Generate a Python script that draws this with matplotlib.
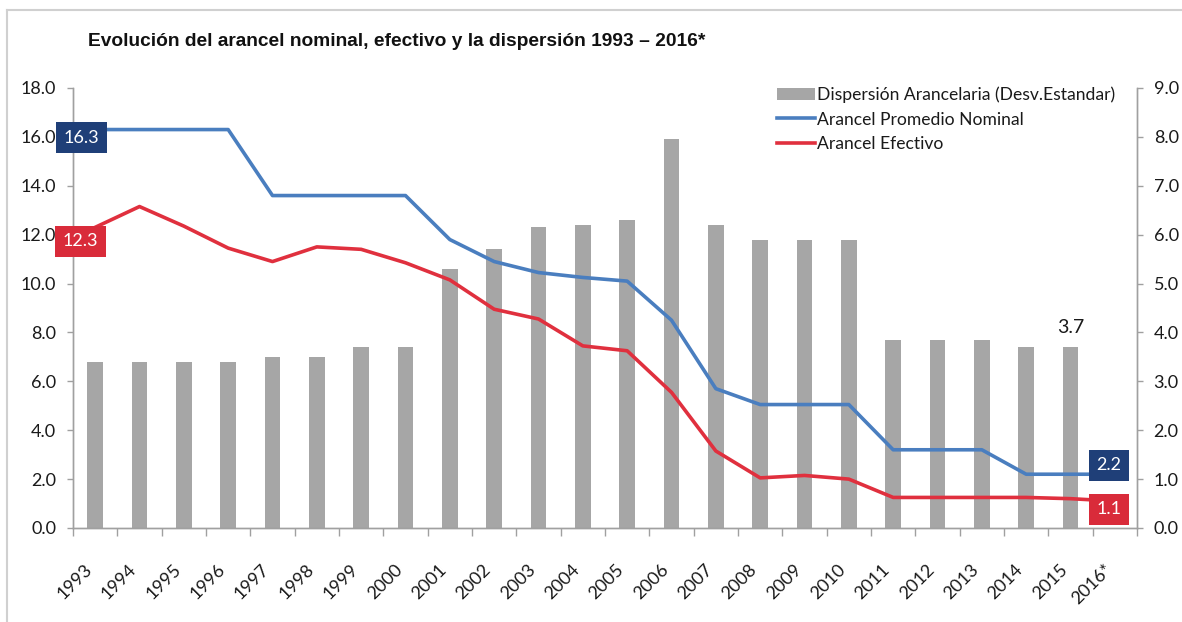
import matplotlib
matplotlib.use("Agg")
import matplotlib.pyplot as plt
from matplotlib.lines import Line2D
from matplotlib.patches import Patch
import numpy as np

years = ["1993", "1994", "1995", "1996", "1997", "1998", "1999", "2000", "2001", "2002",
         "2003", "2004", "2005", "2006", "2007", "2008", "2009", "2010", "2011", "2012",
         "2013", "2014", "2015", "2016*"]
dispersion = [3.4, 3.4, 3.4, 3.4, 3.5, 3.5, 3.7, 3.7, 5.3, 5.7,
              6.15, 6.2, 6.3, 7.95, 6.2, 5.9, 5.9, 5.9, 3.85, 3.85,
              3.85, 3.7, 3.7, np.nan]
nominal = [16.3, 16.3, 16.3, 16.3, 13.6, 13.6, 13.6, 13.6, 11.8, 10.9,
           10.45, 10.25, 10.1, 8.5, 5.7, 5.05, 5.05, 5.05, 3.2, 3.2,
           3.2, 2.2, 2.2, 2.2]
efectivo = [12.3, 13.15, 12.35, 11.45, 10.9, 11.5, 11.4, 10.85, 10.15, 8.95,
            8.55, 7.45, 7.25, 5.55, 3.15, 2.05, 2.15, 2.0, 1.25, 1.25,
            1.25, 1.25, 1.2, 1.1]

BAR_C = "#a6a6a6"
BLUE = "#4a7ebf"
RED = "#e0303e"
BLUE_BOX = "#1f3f78"
RED_BOX = "#d92b3a"
AX_C = "#a0a0a0"
TXT = "#1a1a1a"

plt.rcParams['font.family'] = ['Lato', 'DejaVu Sans']

fig = plt.figure(figsize=(11.82, 6.22), dpi=100)
ax = fig.add_axes([73/1182, 1-528/622, (1137-73)/1182, (528-88)/622])
ax2 = ax.twinx()

x = np.arange(len(years))
ax.bar(x, dispersion, width=0.36, color=BAR_C, zorder=2)
ax.set_ylim(0, 9)
ax.set_xlim(-0.5, len(years)-0.5)

ax2.plot(x, nominal, color=BLUE, lw=2.6, zorder=3, solid_joinstyle='round')
ax2.plot(x, efectivo, color=RED, lw=2.6, zorder=3, solid_joinstyle='round')
ax2.set_ylim(0, 18)

# swap sides: bars axis ticks on right, lines axis ticks on left
ax.yaxis.tick_right()
ax2.yaxis.tick_left()
ax.set_yticks(np.arange(0, 9.1, 1))
ax.set_yticklabels([f"{v:.1f}" for v in np.arange(0, 9.1, 1)])
ax2.set_yticks(np.arange(0, 18.1, 2))
ax2.set_yticklabels([f"{v:.1f}" for v in np.arange(0, 18.1, 2)])

for a in (ax, ax2):
    for s in a.spines.values():
        s.set_color(AX_C)
        s.set_linewidth(1.0)
    a.spines['top'].set_visible(False)
    a.tick_params(axis='y', colors=AX_C, labelcolor=TXT, labelsize=13, length=4, width=1, pad=8)

ax.set_xticks(x)
ax.set_xticklabels(years, rotation=45, ha='right', rotation_mode='default', fontsize=13, color=TXT)
ax.tick_params(axis='x', which='major', length=0, pad=24)
ax.set_xticks(np.arange(-0.5, len(years), 1), minor=True)
ax.tick_params(axis='x', which='minor', length=6, width=1, color=AX_C)

# data labels
def box_label(val, xi, yi, dx, dy, fc):
    ax2.annotate(f"{val:.1f}", xy=(xi, yi), xytext=(dx, dy), textcoords='offset pixels',
                 ha='center', va='center', color='white', fontsize=13, zorder=6,
                 bbox=dict(boxstyle='square,pad=0.42', fc=fc, ec='none'))

box_label(nominal[0], x[0], nominal[0], -14, -8, BLUE_BOX)
box_label(efectivo[0], x[0], efectivo[0], -15, -14, RED_BOX)
box_label(nominal[-1], x[-1], nominal[-1], -6, 9, BLUE_BOX)
box_label(efectivo[-1], x[-1], efectivo[-1], -6, -8, RED_BOX)

ax.annotate(f"{dispersion[-2]:.1f}", xy=(x[-2], dispersion[-2]), xytext=(0, 11),
            textcoords='offset pixels', ha='center', va='bottom', fontsize=14, color=TXT)

handles = [Patch(facecolor=BAR_C, edgecolor='none'),
           Line2D([0], [0], color=BLUE, lw=2.6),
           Line2D([0], [0], color=RED, lw=2.6)]
labels = ["Dispersión Arancelaria (Desv.Estandar)", "Arancel Promedio Nominal", "Arancel Efectivo"]
leg = ax2.legend(handles, labels, loc='upper left', bbox_to_anchor=(0.655, 1.02), frameon=False,
                 fontsize=12.6, handlelength=2.2, handletextpad=0.1, labelspacing=0.5,
                 borderaxespad=0)
for t in leg.get_texts():
    t.set_color(TXT)

fig.text(88/1182, 1-42/622, "Evolución del arancel nominal, efectivo y la dispersión 1993 – 2016*",
         fontsize=13.8, fontweight='bold', ha='left', va='center', color='#111111',
         family=['Liberation Sans Narrow', 'Liberation Sans', 'DejaVu Sans'])

# outer frame (left and top edges)
fig.add_artist(Line2D([7/1182, 7/1182], [0, 1-10/622], transform=fig.transFigure, color='#d0d0d0', lw=1.5))
fig.add_artist(Line2D([7/1182, 1], [1-10/622, 1-10/622], transform=fig.transFigure, color='#d0d0d0', lw=1.5))

fig.savefig("out.png", dpi=100)
